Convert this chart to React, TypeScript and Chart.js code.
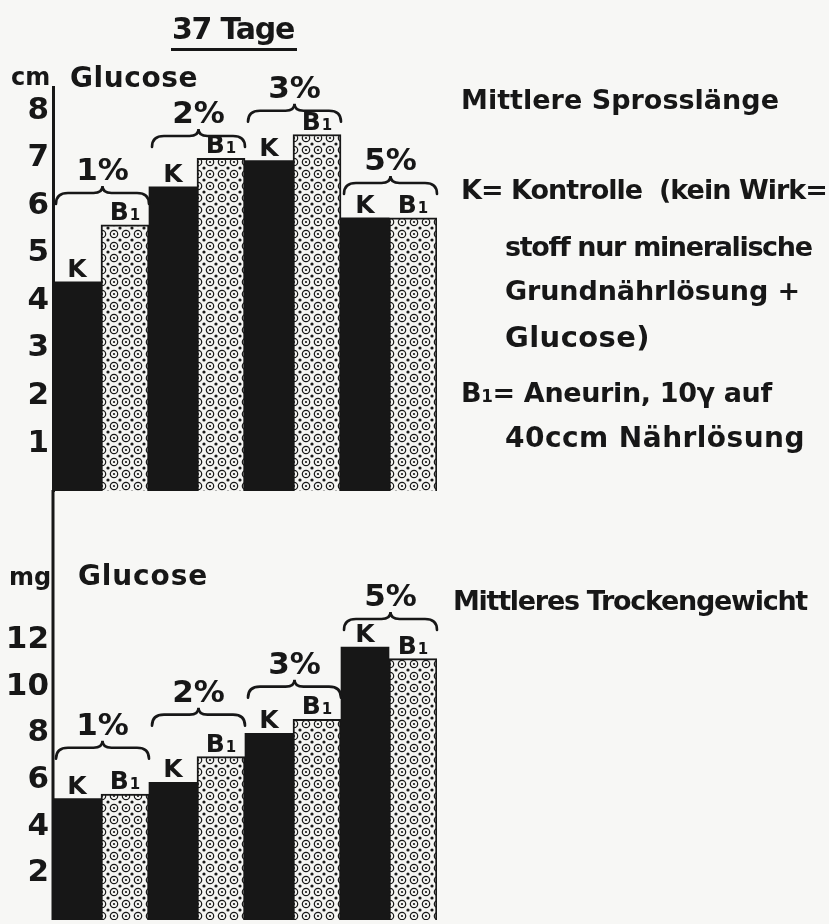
import React, { useEffect, useRef } from "react";
import { Chart, registerables } from "chart.js";
Chart.register(...registerables);

// ---------- data ----------
const groups = ["1%", "2%", "3%", "5%"];
const seriesNames = ["K", "B1"];
const lengthK = [4.4, 6.4, 6.95, 5.75];
const lengthB1 = [5.6, 7.0, 7.5, 5.75];
const lengthBrace = [6.27, 7.47, 8.0, 6.48];
const lengthTicks = [1, 2, 3, 4, 5, 6, 7, 8];
const weightK = [5.2, 5.9, 8.0, 11.7];
const weightB1 = [5.4, 7.0, 8.6, 11.2];
const weightBrace = [7.38, 8.8, 10.0, 12.9];
const weightTicks = [2, 4, 6, 8, 10, 12];

const INK = "#171717";
const PAPER = "#f7f7f5";
const FONT = "'DejaVu Sans', sans-serif";

function makePattern(ctx: CanvasRenderingContext2D) {
  const c = document.createElement("canvas");
  c.width = 12;
  c.height = 12;
  const p = c.getContext("2d")!;
  p.fillStyle = "#f4f4f2";
  p.fillRect(0, 0, 12, 12);
  p.fillStyle = INK;
  p.strokeStyle = INK;
  p.lineWidth = 1.2;
  p.beginPath();
  p.arc(6, 6, 3.7, 0, Math.PI * 2);
  p.stroke();
  p.beginPath();
  p.arc(6, 6, 1.1, 0, Math.PI * 2);
  p.fill();
  for (const [x, y] of [[0, 0], [12, 0], [0, 12], [12, 12]]) {
    p.beginPath();
    p.arc(x, y, 1.6, 0, Math.PI * 2);
    p.fill();
  }
  return ctx.createPattern(c, "repeat")!;
}

function drawBrace(ctx: CanvasRenderingContext2D, x1: number, x2: number, y: number) {
  const xm = (x1 + x2) / 2;
  ctx.beginPath();
  ctx.moveTo(x1, y + 11);
  ctx.quadraticCurveTo(x1, y, x1 + 12, y);
  ctx.lineTo(xm - 9, y);
  ctx.quadraticCurveTo(xm, y, xm, y - 7);
  ctx.quadraticCurveTo(xm, y, xm + 9, y);
  ctx.lineTo(x2 - 12, y);
  ctx.quadraticCurveTo(x2, y, x2, y + 11);
  ctx.stroke();
}

function drawB1(ctx: CanvasRenderingContext2D, cx: number, base: number) {
  ctx.font = `bold 25px ${FONT}`;
  const wB = ctx.measureText("B").width;
  ctx.font = `bold 15px ${FONT}`;
  const w1 = ctx.measureText("1").width;
  const left = cx - (wB + w1 + 1) / 2;
  ctx.textAlign = "left";
  ctx.font = `bold 25px ${FONT}`;
  ctx.fillText("B", left, base);
  ctx.font = `bold 15px ${FONT}`;
  ctx.fillText("1", left + wB + 1, base);
}

function bracePlugin(braceVals: number[], extendAxis: boolean) {
  return {
    id: "braces",
    afterDatasetsDraw(chart: any) {
      const ctx: CanvasRenderingContext2D = chart.ctx;
      const ys = chart.scales.y;
      const m0 = chart.getDatasetMeta(0);
      const m1 = chart.getDatasetMeta(1);
      ctx.save();
      ctx.fillStyle = INK;
      ctx.strokeStyle = INK;
      ctx.lineWidth = 2.6;
      ctx.lineCap = "round";
      groups.forEach((g, i) => {
        const a = m0.data[i];
        const b = m1.data[i];
        const x1 = a.x - a.width / 2 + 3;
        const x2 = b.x + b.width / 2;
        const yb = ys.getPixelForValue(braceVals[i]);
        drawBrace(ctx, x1, x2, yb);
        ctx.font = `bold 31px ${FONT}`;
        ctx.textAlign = "center";
        ctx.textBaseline = "middle";
        ctx.fillText(g, (x1 + x2) / 2, yb - 21);
        ctx.textBaseline = "alphabetic";
        ctx.font = `bold 25px ${FONT}`;
        ctx.fillText(seriesNames[0], a.x, a.y - 5);
        drawB1(ctx, b.x, b.y - 5);
      });
      if (extendAxis) {
        const x = chart.chartArea.left;
        ctx.lineWidth = 3;
        ctx.lineCap = "butt";
        ctx.beginPath();
        ctx.moveTo(x, 0);
        ctx.lineTo(x, chart.chartArea.bottom);
        ctx.stroke();
      }
      ctx.restore();
    },
  };
}

function makeConfig(
  canvas: HTMLCanvasElement,
  kVals: number[],
  bVals: number[],
  braceVals: number[],
  ticks: number[],
  yMax: number,
  padTop: number,
  padBottom: number,
  extendAxis: boolean
): any {
  const ctx = canvas.getContext("2d")!;
  const pattern = makePattern(ctx);
  return {
    type: "bar",
    data: {
      labels: groups,
      datasets: [
        {
          label: seriesNames[0],
          data: kVals,
          backgroundColor: INK,
          borderWidth: 0,
          barPercentage: 1,
          categoryPercentage: 1,
        },
        {
          label: seriesNames[1],
          data: bVals,
          backgroundColor: pattern,
          borderColor: INK,
          borderWidth: 2,
          borderSkipped: "bottom",
          barPercentage: 1,
          categoryPercentage: 1,
        },
      ],
    },
    options: {
      responsive: false,
      animation: false,
      events: [],
      layout: { padding: { left: 0, right: 392, top: padTop, bottom: padBottom } },
      plugins: { legend: { display: false }, tooltip: { enabled: false } },
      scales: {
        x: { display: false },
        y: {
          min: 0,
          max: yMax,
          afterFit: (s: any) => {
            s.width = 53;
          },
          afterBuildTicks: (s: any) => {
            s.ticks = ticks.map((v) => ({ value: v }));
          },
          grid: { display: false, drawTicks: false },
          border: { display: !extendAxis, width: 3, color: INK },
          ticks: {
            font: { family: FONT, size: 31, weight: "bold" },
            color: INK,
            padding: 4,
          },
        },
      },
    },
    plugins: [bracePlugin(braceVals, extendAxis)],
  };
}

let measureCtx: CanvasRenderingContext2D | null = null;
function spacingFor(text: string, size: number, target?: number) {
  if (!target) return 0;
  if (!measureCtx) measureCtx = document.createElement("canvas").getContext("2d");
  measureCtx!.font = `bold ${size}px ${FONT}`;
  const w = measureCtx!.measureText(text).width;
  return (target - w) / text.length;
}

function Txt(props: { x: number; cy: number; size: number; text: string; w?: number; sub?: boolean }) {
  const lh = props.size * 1.3;
  const ls = spacingFor(props.text, props.size, props.w);
  let content: any = props.text;
  if (props.sub) {
    content = (
      <>
        B<span style={{ fontSize: props.size * 0.62 }}>1</span>
        {props.text.slice(2)}
      </>
    );
  }
  return (
    <div
      style={{
        position: "absolute",
        left: props.x,
        top: props.cy - lh / 2,
        height: lh,
        lineHeight: `${lh}px`,
        fontSize: props.size,
        fontWeight: "bold",
        fontFamily: FONT,
        letterSpacing: ls,
        color: INK,
        whiteSpace: "pre",
      }}
    >
      {content}
    </div>
  );
}

export default function App() {
  const topRef = useRef<HTMLCanvasElement>(null);
  const botRef = useRef<HTMLCanvasElement>(null);

  useEffect(() => {
    const c1 = new Chart(
      topRef.current!,
      makeConfig(topRef.current!, lengthK, lengthB1, lengthBrace, lengthTicks, 8.5, 87, 29, false)
    );
    const c2 = new Chart(
      botRef.current!,
      makeConfig(botRef.current!, weightK, weightB1, weightBrace, weightTicks, 13.5, 115, 40, true)
    );
    return () => {
      c1.destroy();
      c2.destroy();
    };
  }, []);

  return (
    <div
      style={{
        position: "fixed",
        left: 0,
        top: 0,
        width: 829,
        height: 924,
        background: PAPER,
        overflow: "hidden",
      }}
    >
      <canvas ref={topRef} width={829} height={520} style={{ position: "absolute", left: 0, top: 0 }} />
      <canvas ref={botRef} width={829} height={470} style={{ position: "absolute", left: 0, top: 490 }} />

      <Txt x={172} cy={28} size={30} text="37 Tage" w={122} />
      <div style={{ position: "absolute", left: 171, top: 48, width: 126, height: 3, background: INK }} />
      <Txt x={11} cy={78} size={24} text="cm" />
      <Txt x={70} cy={78} size={28} text="Glucose" w={128} />
      <Txt x={9} cy={578} size={24} text="mg" />
      <Txt x={78} cy={576} size={28} text="Glucose" w={130} />

      <Txt x={461} cy={100} size={27} text="Mittlere Sprosslänge" w={318} />
      <Txt x={461} cy={190} size={27} text="K= Kontrolle  (kein Wirk=" w={366} />
      <Txt x={505} cy={247} size={27} text="stoff nur mineralische" w={305} />
      <Txt x={505} cy={291} size={27} text="Grundnährlösung +" w={295} />
      <Txt x={505} cy={338} size={29} text="Glucose)" w={145} />
      <Txt x={461} cy={393} size={27} text="B1= Aneurin, 10γ auf" w={318} sub />
      <Txt x={505} cy={438} size={28} text="40ccm Nährlösung" w={300} />
      <Txt x={453} cy={601} size={27} text="Mittleres Trockengewicht" w={354} />
    </div>
  );
}
